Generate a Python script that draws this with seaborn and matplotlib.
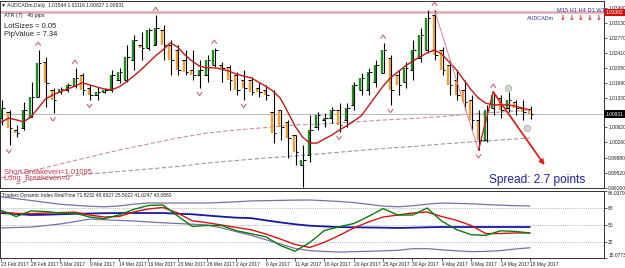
import matplotlib
matplotlib.use("Agg")
import matplotlib.pyplot as plt
import matplotlib.transforms as mtransforms
from matplotlib import font_manager as fm
from matplotlib.path import Path
import numpy as np
import pandas as pd
import seaborn as sns

# ---------------- data ----------------
date_labels = ['23 Feb 2017', '28 Feb 2017', '5 Mar 2017', '9 Mar 2017', '14 Mar 2017',
               '19 Mar 2017', '23 Mar 2017', '28 Mar 2017', '2 Apr 2017', '6 Apr 2017',
               '11 Apr 2017', '16 Apr 2017', '20 Apr 2017', '25 Apr 2017', '30 Apr 2017',
               '4 May 2017', '9 May 2017', '14 May 2017', '18 May 2017']
opens = [1.0084, 1.0099, 1.0055, 1.0060, 1.0087, 1.0135, 1.0219, 1.0152, 1.0147, 1.0152,
         1.0161, 1.0188, 1.0157, 1.0140, 1.0147, 1.0152, 1.0176, 1.0176, 1.0224, 1.0260,
         1.0253, 1.0260, 1.0296, 1.0260, 1.0248, 1.0224, 1.0200, 1.0188, 1.0188, 1.0212,
         1.0212, 1.0207, 1.0188, 1.0176, 1.0176, 1.0157, 1.0152, 1.0099, 1.0104, 1.0075,
         1.0043, 0.9971, 0.9995, 1.0063, 1.0080, 1.0084, 1.0104, 1.0080, 1.0116, 1.0152,
         1.0152, 1.0171, 1.0193, 1.0229, 1.0188, 1.0171, 1.0200, 1.0229, 1.0248, 1.0332,
         1.0248, 1.0212, 1.0176, 1.0152, 1.0128, 1.0080, 1.0031, 1.0108, 1.0132, 1.0108,
         1.0123, 1.0108, 1.0105]
highs = [1.0128, 1.0104, 1.0068, 1.0123, 1.0171, 1.0248, 1.0231, 1.0157, 1.0159, 1.0169,
         1.0205, 1.0193, 1.0164, 1.0159, 1.0157, 1.0200, 1.0205, 1.0260, 1.0284, 1.0291,
         1.0301, 1.0332, 1.0308, 1.0272, 1.0260, 1.0248, 1.0248, 1.0224, 1.0236, 1.0253,
         1.0219, 1.0212, 1.0195, 1.0200, 1.0183, 1.0171, 1.0164, 1.0152, 1.0104, 1.0080,
         1.0043, 1.0019, 1.0091, 1.0099, 1.0096, 1.0111, 1.0120, 1.0120, 1.0171, 1.0193,
         1.0205, 1.0224, 1.0265, 1.0236, 1.0200, 1.0219, 1.0272, 1.0301, 1.0344, 1.0344,
         1.0255, 1.0224, 1.0200, 1.0176, 1.0140, 1.0104, 1.0116, 1.0147, 1.0140, 1.0147,
         1.0128, 1.0128, 1.0112]
lows = [1.0068, 1.0019, 1.0039, 1.0055, 1.0087, 1.0135, 1.0111, 1.0096, 1.0142, 1.0147,
        1.0157, 1.0140, 1.0128, 1.0128, 1.0144, 1.0147, 1.0169, 1.0171, 1.0200, 1.0224,
        1.0248, 1.0260, 1.0224, 1.0188, 1.0188, 1.0188, 1.0176, 1.0157, 1.0171, 1.0207,
        1.0171, 1.0152, 1.0140, 1.0128, 1.0140, 1.0135, 1.0128, 1.0024, 1.0031, 0.9988,
        0.9971, 0.9918, 0.9978, 1.0055, 1.0063, 1.0072, 1.0051, 1.0063, 1.0104, 1.0140,
        1.0140, 1.0159, 1.0193, 1.0116, 1.0140, 1.0157, 1.0176, 1.0219, 1.0241, 1.0224,
        1.0188, 1.0140, 1.0128, 1.0104, 1.0055, 1.0007, 1.0027, 1.0091, 1.0084, 1.0099,
        1.0091, 1.0080, 1.0083]
closes = [1.0108, 1.0060, 1.0048, 1.0104, 1.0135, 1.0217, 1.0169, 1.0128, 1.0154, 1.0164,
          1.0181, 1.0152, 1.0140, 1.0147, 1.0152, 1.0188, 1.0195, 1.0231, 1.0272, 1.0253,
          1.0296, 1.0301, 1.0260, 1.0224, 1.0200, 1.0195, 1.0188, 1.0200, 1.0224, 1.0248,
          1.0205, 1.0176, 1.0152, 1.0157, 1.0147, 1.0147, 1.0140, 1.0048, 1.0063, 1.0036,
          1.0002, 0.9983, 1.0055, 1.0091, 1.0084, 1.0104, 1.0068, 1.0108, 1.0164, 1.0181,
          1.0195, 1.0212, 1.0248, 1.0152, 1.0164, 1.0205, 1.0248, 1.0284, 1.0325, 1.0236,
          1.0200, 1.0164, 1.0140, 1.0123, 1.0080, 1.0031, 1.0104, 1.0140, 1.0104, 1.0128,
          1.0108, 1.0099, 1.0093]
ema = [1.0075, 1.0084, 1.0080, 1.0075, 1.0087, 1.0108, 1.0130, 1.0140, 1.0147, 1.0154,
       1.0161, 1.0169, 1.0164, 1.0159, 1.0154, 1.0152, 1.0159, 1.0171, 1.0185, 1.0200,
       1.0217, 1.0234, 1.0248, 1.0265, 1.0255, 1.0236, 1.0221, 1.0209, 1.0205, 1.0205,
       1.0202, 1.0197, 1.0190, 1.0185, 1.0181, 1.0171, 1.0161, 1.0149, 1.0132, 1.0099,
       1.0065, 1.0039, 1.0024, 1.0024, 1.0034, 1.0043, 1.0055, 1.0065, 1.0077, 1.0089,
       1.0113, 1.0137, 1.0161, 1.0181, 1.0195, 1.0209, 1.0221, 1.0231, 1.0241, 1.0248,
       1.0238, 1.0219, 1.0200, 1.0176, 1.0152, 1.0132, 1.0120, 1.0116, 1.0116, 1.0116,
       1.0113, 1.0108, 1.0104]
ma_pink_bars = list(range(0, 73, 4))
ma_pink = [0.99399, 0.99568, 0.99736, 0.99905, 1.00073, 1.00217, 1.00362, 1.00482, 1.00554,
           1.00614, 1.00675, 1.00699, 1.00747, 1.00795, 1.00831, 1.00879, 1.00939, 1.00987, 1.01036]
ma_gray_bars = [2] + list(range(4, 73, 4))
ma_gray = [0.99255, 0.99351, 0.99423, 0.99496, 0.99556, 0.99616, 0.99676, 0.99760, 0.99820,
           0.99881, 0.99929, 0.99989, 1.00049, 1.00109, 1.00157, 1.00217, 1.00266, 1.00314, 1.00362]
tdi_bars = list(range(0, 73, 2))
tdi_upper = [79.7, 78.0, 76.0, 74.0, 72.0, 70.9, 69.9, 69.3, 70.2, 72.1, 73.3, 73.3, 73.3,
             73.3, 73.3, 73.9, 74.6, 75.5, 75.8, 76.1, 76.4, 76.5, 75.8, 74.9, 73.8, 71.9,
             70.1, 69.3, 70.4, 72.1, 73.3, 72.9, 72.5, 71.7, 71.0, 70.5, 70.2]
tdi_mid = [62.7, 61.7, 60.6, 60.9, 61.4, 61.9, 62.2, 62.5, 62.7, 62.7, 62.7, 62.7, 62.0,
           61.4, 60.1, 58.9, 57.8, 57.3, 55.0, 52.8, 50.8, 49.3, 48.5, 47.8, 47.6, 47.4,
           47.2, 46.9, 47.2, 47.6, 47.9, 47.9, 47.9, 47.9, 47.9, 47.9, 47.9]
tdi_lower = [46.9, 47.4, 47.8, 49.4, 51.1, 53.6, 56.3, 55.7, 54.9, 54.3, 53.3, 52.4, 51.6,
             50.9, 50.1, 47.0, 43.0, 39.1, 34.5, 29.9, 25.2, 22.9, 22.0, 21.4, 21.8, 22.2,
             22.7, 23.2, 24.9, 25.0, 23.7, 22.7, 21.8, 22.1, 22.9, 24.6, 25.9]
tdi_green = [65.4, 59.0, 64.9, 64.3, 62.7, 62.7, 58.5, 56.7, 60.6, 66.5, 70.7, 71.2, 59.6,
             48.5, 49.5, 49.5, 44.0, 40.8, 37.6, 28.3, 22.3, 31.4, 44.2, 48.1, 51.6, 59.1,
             67.4, 60.6, 60.6, 68.0, 54.1, 45.2, 39.8, 39.0, 43.9, 43.2, 41.6]
tdi_red = [63.8, 62.3, 62.0, 62.7, 63.2, 63.6, 60.6, 58.5, 59.0, 63.8, 67.0, 68.6, 62.7,
           54.5, 52.5, 50.0, 47.4, 45.0, 40.5, 35.2, 29.4, 26.2, 31.7, 38.9, 46.9, 53.2,
           58.5, 60.6, 62.7, 63.8, 59.0, 55.0, 49.5, 40.9, 41.0, 41.6, 41.6]
frac_up = [5, 10, 21, 29, 52, 59, 67]
frac_dn = [1, 7, 12, 27, 33, 41, 46, 53, 65]
price_ticks = [1.03490, 1.03130, 1.02770, 1.02410, 1.02050, 1.01690, 1.01330,
               1.00620, 1.00260, 0.99880, 0.99520, 0.99160]
tdi_ticks = [86.0379, 68, 50, 32, 15.0773]
tdi_tick_labels = ['86.0379', '68', '50', '32', '15.0773']
current_price = 1.00931
level_price = 1.03382
arrow_to = (74.0, 0.9971)
circles_x = [69, 71.6]
circles_y = [1.0157, 1.0060]

# ---------------- style ----------------
sns.set_theme(style='white')
names = {f.name for f in fm.fontManager.ttflist}
NARROW = 'Liberation Sans Narrow' if 'Liberation Sans Narrow' in names else 'Liberation Sans'
SANS = 'Liberation Sans' if 'Liberation Sans' in names else 'DejaVu Sans'
plt.rcParams['font.family'] = [SANS, 'DejaVu Sans']
small = 4.3 if NARROW.endswith('Narrow') else 3.5

W, H = 625, 268
AXR = 604
fig = plt.figure(figsize=(W / 100, H / 100), dpi=100)
fig.patch.set_facecolor('white')
ax = fig.add_axes([0, 1 - 188 / H, AXR / W, 187 / H])
ax2 = fig.add_axes([0, 1 - 258 / H, AXR / W, 67 / H])
for a in (ax, ax2):
    a.set_facecolor('white')
    a.set_xlim(-0.2, 82.1)
    for s in a.spines.values():
        s.set_color('#303030')
        s.set_linewidth(0.7)

x = np.arange(len(opens))
df = pd.DataFrame({'x': x, 'o': opens, 'h': highs, 'l': lows, 'c': closes, 'ema': ema})

# reference lines
ax.axhline(level_price, color='#dcaab2', lw=1.8, zorder=1)
ax.axhline(current_price, color='#b8b8b8', lw=0.7, zorder=1)

# moving averages
sns.lineplot(x=ma_pink_bars, y=ma_pink, ax=ax, color='#c890a8', lw=0.8, linestyle=(0, (4, 2)), legend=False)
sns.lineplot(x=ma_gray_bars, y=ma_gray, ax=ax, color='#a09898', lw=0.8, linestyle=(0, (4, 2)), legend=False)

# bars
body_col = np.where(df.c >= df.o, '#1f8a1f', '#f0a030')
ax.vlines(df.x - 0.12, np.minimum(df.o, df.c), np.maximum(df.o, df.c), colors=body_col, lw=1.7, zorder=3)
ax.vlines(df.x + 0.1, df.l, df.h, colors='black', lw=0.8, zorder=4)
ax.hlines(df.o, df.x - 0.35, df.x + 0.1, colors='black', lw=0.7, zorder=4)
ax.hlines(df.c, df.x + 0.1, df.x + 0.45, colors='black', lw=0.7, zorder=4)

sns.lineplot(x=df.x, y=df.ema, ax=ax, color='#c41818', lw=1.0, legend=False, zorder=5)

# fractals
chev_up = Path([(-1, -0.7), (0, 0.7), (1, -0.7)], [Path.MOVETO, Path.LINETO, Path.LINETO])
chev_dn = Path([(-1, 0.7), (0, -0.7), (1, 0.7)], [Path.MOVETO, Path.LINETO, Path.LINETO])
up_tr = mtransforms.offset_copy(ax.transData, fig=fig, y=6, units='dots')
dn_tr = mtransforms.offset_copy(ax.transData, fig=fig, y=-6, units='dots')
ax.scatter([x[i] for i in frac_up], [highs[i] for i in frac_up], marker=chev_up, s=14,
           facecolors='none', edgecolors='#d05060', lw=0.7, transform=up_tr, zorder=6)
ax.scatter([x[i] for i in frac_dn], [lows[i] for i in frac_dn], marker=chev_dn, s=14,
           facecolors='none', edgecolors='#d05060', lw=0.7, transform=dn_tr, zorder=6)

# zigzag and arrow
ax.plot([59, 65], [highs[59], lows[65]], color='#e08090', lw=0.7, zorder=6)
ax.plot([65, 67], [lows[65], highs[67]], color='#d02020', lw=1.0, zorder=6)
ax.annotate('', xy=arrow_to, xytext=(67, highs[67]),
            arrowprops=dict(arrowstyle='-|>', color='#e02020', lw=1.3, mutation_scale=7,
                            shrinkA=0, shrinkB=0), zorder=7)
ax.scatter(circles_x, circles_y, s=22, color='#d8d8d0', edgecolors='#a8a8a0', lw=0.5, zorder=7)

ax.set_ylim(0.99159, 1.03658)
ax.yaxis.tick_right()
ax.set_yticks(price_ticks)
ax.set_yticklabels([f'{v:.5f}' for v in price_ticks], fontfamily=NARROW)
ax.tick_params(axis='y', labelsize=small, length=2, width=0.5, pad=1.0, colors='#202020', right=True)
ax.set_xticks([])
ax.set_xlabel('')
ax.set_ylabel('')

ytr = ax.get_yaxis_transform()
ax.text(1.003, level_price, '1.03382', transform=ytr, fontsize=small, family=NARROW, color='white',
        va='center', ha='left', bbox=dict(boxstyle='square,pad=0.3', fc='#d01010', ec='none'),
        zorder=10, clip_on=False)
ax.text(1.003, current_price, '1.00931', transform=ytr, fontsize=small, family=NARROW, color='white',
        va='center', ha='left', bbox=dict(boxstyle='square,pad=0.3', fc='#000000', ec='none'),
        zorder=10, clip_on=False)

# indicator panel
for lv in (68, 50, 32):
    ax2.axhline(lv, color='#a0a0a0', lw=0.6, linestyle=(0, (1, 1.5)))
sns.lineplot(x=tdi_bars, y=tdi_upper, ax=ax2, color='#7474a4', lw=0.9, legend=False)
sns.lineplot(x=tdi_bars, y=tdi_lower, ax=ax2, color='#7474a4', lw=0.9, legend=False)
sns.lineplot(x=tdi_bars, y=tdi_mid, ax=ax2, color='#1818a0', lw=1.3, legend=False)
sns.lineplot(x=tdi_bars, y=tdi_red, ax=ax2, color='#d41414', lw=1.0, legend=False)
sns.lineplot(x=tdi_bars, y=tdi_green, ax=ax2, color='#0c7a0c', lw=1.0, legend=False)
ax2.set_ylim(15.0773, 86.0379)
ax2.yaxis.tick_right()
ax2.set_yticks(tdi_ticks)
ax2.set_yticklabels(tdi_tick_labels, fontfamily=NARROW)
ax2.tick_params(axis='y', labelsize=small, length=2, width=0.5, pad=1.0, colors='#202020', right=True)
lbls = ax2.get_yticklabels()
lbls[0].set_va('top')
lbls[-1].set_va('bottom')
ax2.set_xticks(list(range(0, 4 * len(date_labels), 4)))
ax2.set_xticklabels(date_labels, ha='left', fontfamily=NARROW)
ax2.tick_params(axis='x', labelsize=small, length=2, width=0.5, pad=1, colors='#202020', bottom=True)
ax2.set_xlabel('')
ax2.set_ylabel('')

# texts
def ft(px, py, s, **kw):
    fig.text(px / W, 1 - py / H, s, va='center', ha='left', **kw)

ft(1, 5, '\u25BC AUDCADm,Daily  1.01544 1.01116 1.00827 1.00931', fontsize=3.6, color='#202020',
   family=[SANS, 'DejaVu Sans'])
ft(4, 15, 'ATR (7)   46 pips', fontsize=3.9, color='#202020')
ft(4, 27, 'LotSizes = 0.05', fontsize=5.4, color='#202020')
ft(4, 34, 'PipValue = 7.34', fontsize=5.4, color='#202020')
ft(4, 172, 'Short Breakeven=1.01095', fontsize=5.4, color='#c8304a')
ft(4, 179, 'Long  Breakeven=0', fontsize=5.4, color='#c8304a')
ft(489, 180, 'Spread: 2.7 points', fontsize=8.6, color='#2020a8')
ft(527, 18, 'AUDCADm', fontsize=3.9, color='#3030a0')
ft(557, 10, 'M15 H1 H4 D1 W1', fontsize=4.1, color='#3030a0')
for px in (563, 572, 581, 590, 599):
    fig.text(px / W, 1 - 18 / H, '\u2193', fontsize=5.0, color='#e01010', ha='center', va='center',
             fontweight='bold', family='DejaVu Sans')
ft(2, 196, 'Traders Dynamic Index RealTime 71.8232 48.6627 25.5022 41.6247 43.0880', fontsize=3.5,
   color='#202020')

fig.savefig('out.png', dpi=100, facecolor='white')
